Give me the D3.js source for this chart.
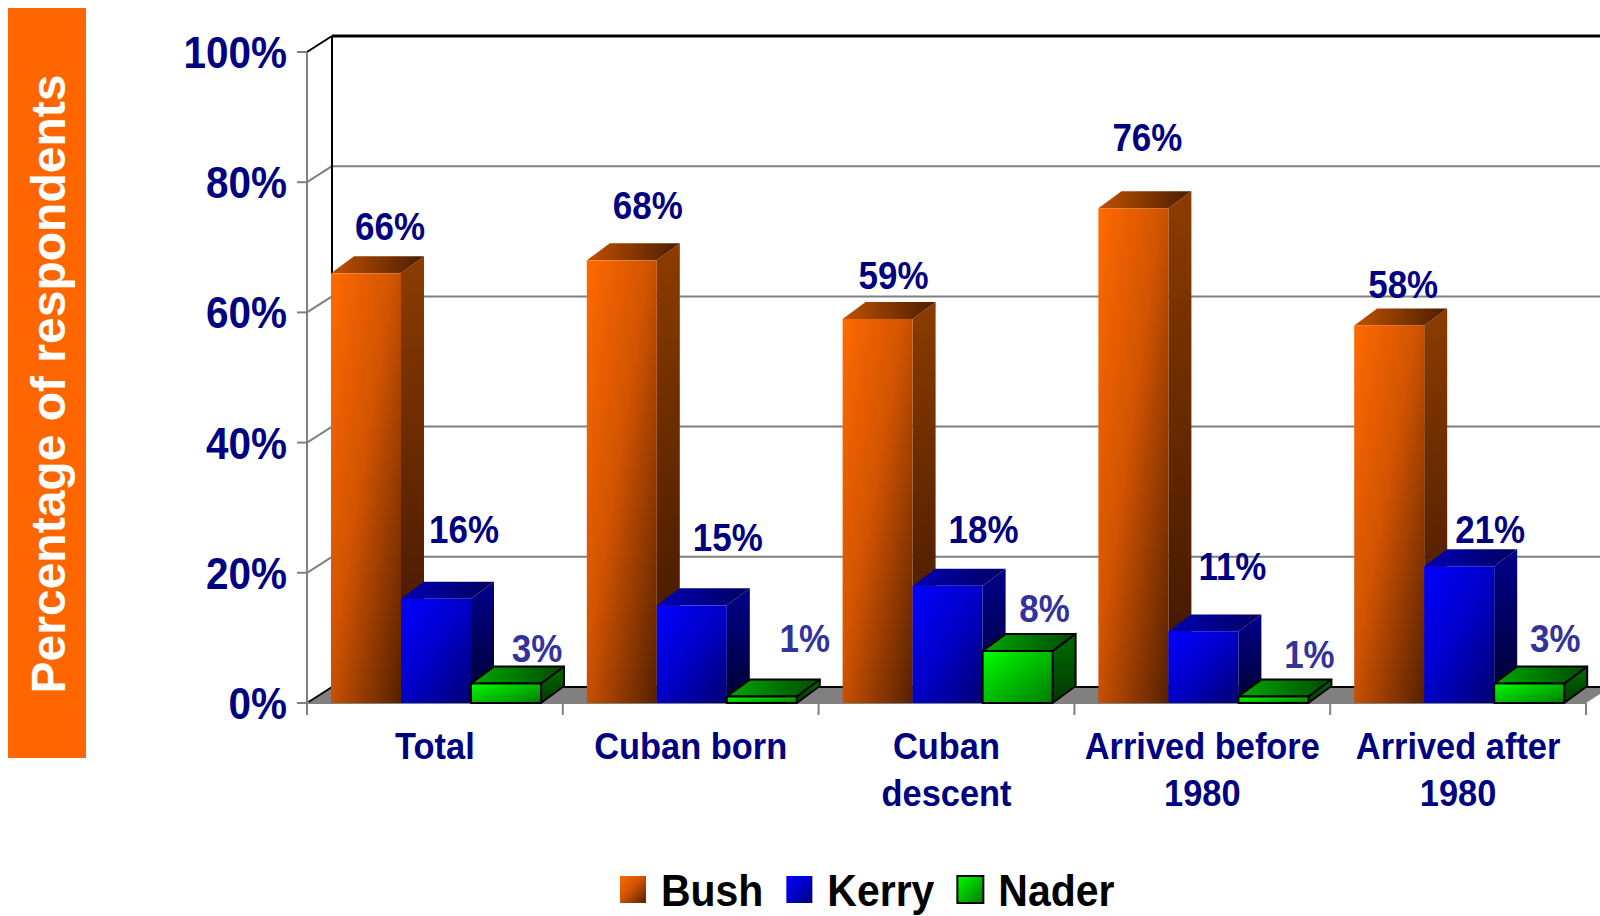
<!DOCTYPE html>
<html>
<head>
<meta charset="utf-8">
<script src="https://cdn.jsdelivr.net/npm/d3@7"></script>
<style>
  body { margin: 0; background: #fff; }
  text { font-family: "Liberation Sans", Arial, sans-serif; font-weight: bold; }
</style>
</head>
<body>
<script>
// chart values
var categories = ["Total", "Cuban born", "Cuban\ndescent", "Arrived before\n1980", "Arrived after\n1980"]
var seriesNames = ["Bush", "Kerry", "Nader"]
var bush = [66, 68, 59, 76, 58]
var kerry = [16, 15, 18, 11, 21]
var nader = [3, 1, 8, 1, 3]
var yTicks = [0, 20, 40, 60, 80, 100]

// hand placed label nudges (dx from bar centre, dy above bar top), like the original slide
var bushLabelNudge = [[24, 33], [26, 41], [16, 30], [14, 57], [14, 27]]
var kerryLabelNudge = [[28, 56], [36, 54], [36, 43], [29, 51], [31, 23]]
var naderLabelNudge = [[31, 21], [43, 44], [27, 29], [36, 28], [26, 31]]

var W = 1600, H = 916
var svg = d3.select("body").append("svg").attr("width", W).attr("height", H)
var defs = svg.append("defs")

function grad(id, stops, x2, y2) {
    var g = defs.append("linearGradient").attr("id", id)
        .attr("x1", 0).attr("y1", 0).attr("x2", x2).attr("y2", y2)
    stops.forEach(function(s) {
        g.append("stop").attr("offset", s[0]).attr("stop-color", s[1])
    })
}

// front / side / top shading for each series
var styles = {
    Bush:  {front: "bushF", side: "bushS", top: "bushT", stroke: "none", label: "#000080"},
    Kerry: {front: "kerF", side: "kerS", top: "kerT", stroke: "none", label: "#000080"},
    Nader: {front: "nadF", side: "nadS", top: "nadT", stroke: "#000", label: "#333399"}
}
grad("bushF", [[0, "#FF6A00"], [0.45, "#D25400"], [1, "#552000"]], 1, 1)
grad("bushS", [[0, "#8C3C00"], [1, "#3A1400"]], 0, 1)
grad("bushT", [[0, "#C05000"], [1, "#4A1E00"]], 1, 0)
grad("kerF", [[0, "#0000FF"], [0.5, "#0000C8"], [1, "#000070"]], 1, 1)
grad("kerS", [[0, "#00008C"], [1, "#000030"]], 0, 1)
grad("kerT", [[0, "#0000B4"], [1, "#000060"]], 1, 0)
grad("nadF", [[0, "#00FF00"], [1, "#007A00"]], 1, 1)
grad("nadS", [[0, "#006E00"], [1, "#003800"]], 0, 1)
grad("nadT", [[0, "#00A800"], [1, "#004A00"]], 1, 0)

var seriesData = {Bush: bush, Kerry: kerry, Nader: nader}
var nudges = {Bush: bushLabelNudge, Kerry: kerryLabelNudge, Nader: naderLabelNudge}

var left = 307, right = 1586
var y = d3.scaleLinear().domain([0, 100]).range([703, 52])
var x = d3.scaleBand().domain(categories).range([left, right])
var xs = d3.scaleBand().domain(seriesNames).range([24, 234])

var wallDx = 25, wallDy = -16
var barDx = 23, barDy = -17
var base = y(0)

// y axis title box
svg.append("rect").attr("x", 8).attr("y", 8).attr("width", 78).attr("height", 750).attr("fill", "#FF6600")
svg.append("text")
    .attr("transform", "translate(65,384) rotate(-90)")
    .attr("text-anchor", "middle")
    .attr("font-size", 48)
    .attr("fill", "#fff")
    .text("Percentage of respondents")

// walls and floor
var walls = svg.append("g")
walls.append("rect").attr("x", left + wallDx).attr("y", y(100) + wallDy)
    .attr("width", W - left).attr("height", base - y(100)).attr("fill", "#fff")
walls.append("polygon")
    .attr("points", [[left, base], [left + wallDx, base + wallDy], [right + wallDx, base + wallDy], [right, base]].join(" "))
    .attr("fill", "#808080")

yTicks.filter(function(t) { return t > 0 && t < 100 }).forEach(function(t) {
    walls.append("line").attr("x1", left).attr("y1", y(t)).attr("x2", left + wallDx).attr("y2", y(t) + wallDy)
        .attr("stroke", "#808080").attr("stroke-width", 2)
    walls.append("line").attr("x1", left + wallDx).attr("y1", y(t) + wallDy).attr("x2", W).attr("y2", y(t) + wallDy)
        .attr("stroke", "#808080").attr("stroke-width", 2)
})

function blackLine(x1, y1, x2, y2, w) {
    walls.append("line").attr("x1", x1).attr("y1", y1).attr("x2", x2).attr("y2", y2)
        .attr("stroke", "#000").attr("stroke-width", w)
}
blackLine(left, y(100), left + wallDx, y(100) + wallDy, 2)
blackLine(left + wallDx, y(100) + wallDy, W, y(100) + wallDy, 3)
blackLine(left + wallDx, y(100) + wallDy, left + wallDx, base + wallDy, 2)
blackLine(left, base, left + wallDx, base + wallDy, 2)
blackLine(left + wallDx, base + wallDy, W, base + wallDy, 2)

// front axes
var axes = svg.append("g").attr("stroke", "#808080").attr("stroke-width", 2)
axes.append("line").attr("x1", left).attr("y1", y(100)).attr("x2", left).attr("y2", base + 12)
axes.append("line").attr("x1", left).attr("y1", base).attr("x2", right).attr("y2", base)
axes.selectAll(".ytick").data(yTicks).enter().append("line")
    .attr("x1", left - 10).attr("x2", left)
    .attr("y1", function(d) { return y(d) }).attr("y2", function(d) { return y(d) })
axes.selectAll(".xtick").data(categories.map(function(c) { return x(c) }).concat([right])).enter().append("line")
    .attr("x1", function(d) { return d }).attr("x2", function(d) { return d })
    .attr("y1", base).attr("y2", base + 12)

// y tick labels, the original font is a touch narrower than Arial
var squeeze = 0.92
svg.selectAll(".ylab").data(yTicks).enter().append("text")
    .attr("transform", function(d) { return "translate(287," + (y(d) + 16) + ") scale(" + squeeze + ",1)" })
    .attr("text-anchor", "end")
    .attr("font-size", 44)
    .attr("fill", "#000080")
    .text(function(d) { return d + "%" })

// bars, drawn category by category so the faces overlap in the right order
var bars = svg.append("g")
categories.forEach(function(cat, i) {
    seriesNames.forEach(function(s) {
        var st = styles[s]
        var v = seriesData[s][i]
        var x0 = x(cat) + xs(s), w = xs.bandwidth(), yt = y(v)
        var g = bars.append("g")
            .attr("stroke", st.stroke).attr("stroke-width", st.stroke == "none" ? 0 : 2)
            .attr("stroke-linejoin", "round")
        g.append("polygon")
            .attr("points", [[x0 + w, yt], [x0 + w + barDx, yt + barDy], [x0 + w + barDx, base + barDy], [x0 + w, base]].join(" "))
            .attr("fill", "url(#" + st.side + ")")
        g.append("polygon")
            .attr("points", [[x0, yt], [x0 + barDx, yt + barDy], [x0 + w + barDx, yt + barDy], [x0 + w, yt]].join(" "))
            .attr("fill", "url(#" + st.top + ")")
        g.append("rect").attr("x", x0).attr("y", yt).attr("width", w).attr("height", base - yt)
            .attr("fill", "url(#" + st.front + ")")
    })
})

// value labels
var labels = svg.append("g")
categories.forEach(function(cat, i) {
    seriesNames.forEach(function(s) {
        var v = seriesData[s][i]
        var n = nudges[s][i]
        var cx = x(cat) + xs(s) + xs.bandwidth() / 2 + n[0]
        var cy = y(v) - n[1]
        labels.append("text")
            .attr("transform", "translate(" + cx + "," + cy + ") scale(" + squeeze + ",1)")
            .attr("text-anchor", "middle")
            .attr("font-size", 38)
            .attr("fill", styles[s].label)
            .text(v + "%")
    })
})

// category labels
categories.forEach(function(cat) {
    var cx = x(cat) + x.bandwidth() / 2
    cat.split("\n").forEach(function(line, k) {
        svg.append("text")
            .attr("transform", "translate(" + cx + "," + (759 + k * 47) + ") scale(0.93,1)")
            .attr("text-anchor", "middle")
            .attr("font-size", 37)
            .attr("fill", "#000080")
            .text(line)
    })
})

// legend (kept just inside the bottom edge)
var legend = svg.append("g")
var lx = 620
var swatchFill = {Bush: "bushF", Kerry: "kerF", Nader: "nadF"}
seriesNames.forEach(function(s) {
    legend.append("rect").attr("x", lx).attr("y", 876).attr("width", 26).attr("height", 27)
        .attr("fill", "url(#" + swatchFill[s] + ")")
        .attr("stroke", s == "Nader" ? "#000" : "none").attr("stroke-width", 2)
    var t = legend.append("text")
        .attr("transform", "translate(" + (lx + 41) + ",906) scale(0.91,1)")
        .attr("font-size", 45)
        .attr("fill", "#000")
        .text(s)
    lx += 41 + t.node().getComputedTextLength() * 0.91 + 23
})
</script>
</body>
</html>
